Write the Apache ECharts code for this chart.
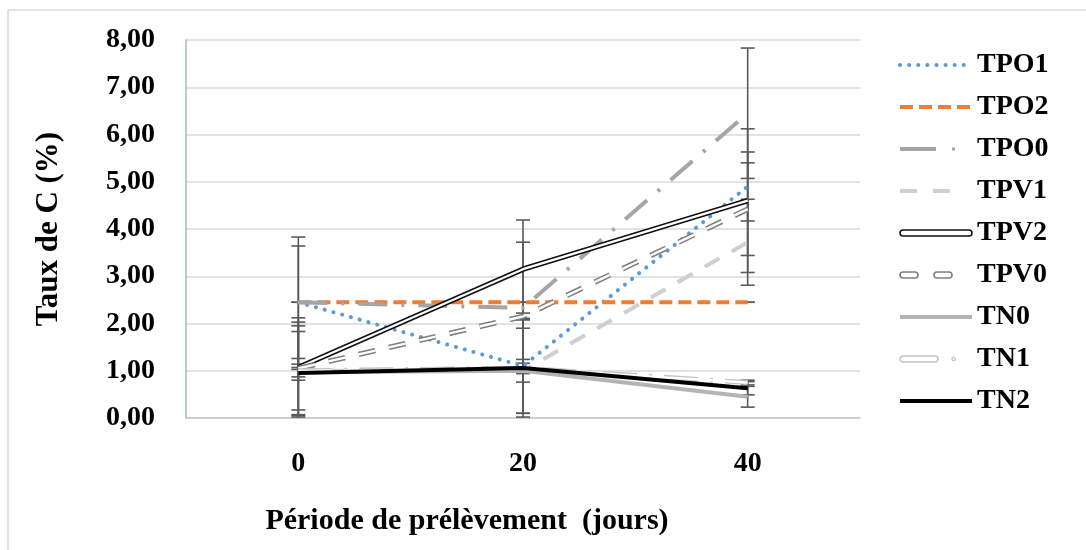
<!DOCTYPE html>
<html>
<head>
<meta charset="utf-8">
<script src="https://cdn.jsdelivr.net/npm/echarts@6/dist/echarts.min.js"></script>
<style>
  html, body { margin: 0; padding: 0; background: #fff; }
  #chart { width: 1086px; height: 550px; }
</style>
</head>
<body>
<div id="chart"></div>
<script>
// Sampling days (x categories) and y tick labels
const periods = ['0', '20', '40'];
const yTickLabels = ['0,00', '1,00', '2,00', '3,00', '4,00', '5,00', '6,00', '7,00', '8,00'];

// Carbon content (%) per treatment at each sampling day
const TPO1 = [2.45, 1.10, 4.90];
const TPO2 = [2.45, 2.45, 2.45];
const TPO0 = [2.45, 2.33, 6.45];
const TPV1 = [1.00, 1.00, 3.72];
const TPV2 = [1.07, 3.15, 4.60];
const TPV0 = [1.05, 2.15, 4.42];
const TN0  = [0.97, 1.00, 0.45];
const TN1  = [1.00, 1.05, 0.75];
const TN2  = [0.95, 1.06, 0.63];

// Error bar half-widths (± %) per treatment at each sampling day
const errTPO1 = [1.38, 1.00, 0.73];
const errTPO2 = [0.00, 0.00, 0.00];
const errTPO0 = [1.19, 1.39, 1.38];
const errTPV1 = [0.95, 0.90, 0.91];
const errTPV2 = [1.05, 1.04, 1.52];
const errTPV0 = [0.98, 0.07, 0.98];
const errTN0  = [0.17, 0.24, 0.22];
const errTN1  = [0.83, 1.03, 0.05];
const errTN2  = [0.08, 0.10, 0.14];

const SERIF = 'Liberation Serif';

const treatments = [
  { name: 'TPO1', data: TPO1, err: errTPO1, line: { color: '#5B9BD5', width: 4, type: [0.1, 9], cap: 'round' } },
  { name: 'TPO2', data: TPO2, err: errTPO2, line: { color: '#ED7D31', width: 4, type: [13, 6], cap: 'butt' } },
  { name: 'TPO0', data: TPO0, err: errTPO0, line: { color: '#A5A5A5', width: 4, type: [29, 14, 3, 14], cap: 'butt' } },
  { name: 'TPV1', data: TPV1, err: errTPV1, line: { color: '#CFCFCF', width: 4, type: [17, 14], cap: 'butt' } },
  { name: 'TPV2', data: TPV2, err: errTPV2, line: { color: '#111111', width: 5.5, type: 'solid', cap: 'butt' },
    inner: { color: '#ffffff', width: 2.2, type: 'solid', cap: 'butt' } },
  { name: 'TPV0', data: TPV0, err: errTPV0, line: { color: '#7F7F7F', width: 5.5, type: [17, 14], cap: 'butt' },
    inner: { color: '#ffffff', width: 2.4, type: [17, 14], cap: 'butt' } },
  { name: 'TN0', data: TN0, err: errTN0, line: { color: '#B4B4B4', width: 4, type: 'solid', cap: 'butt' } },
  { name: 'TN1', data: TN1, err: errTN1, line: { color: '#C4C4C4', width: 5, type: [34, 12, 3, 12], cap: 'butt' },
    inner: { color: '#ffffff', width: 2.2, type: [34, 12, 3, 12], cap: 'butt' } },
  { name: 'TN2', data: TN2, err: errTN2, line: { color: '#000000', width: 4, type: 'solid', cap: 'butt' } }
];

// Error bar records: [category index, low, high]
const errorData = [];
treatments.forEach(t => {
  t.data.forEach((v, i) => {
    errorData.push([i, +(v - t.err[i]).toFixed(3), +(v + t.err[i]).toFixed(3)]);
  });
});

const series = [{
  name: 'error bars',
  type: 'custom',
  z: 1,
  silent: true,
  encode: { x: 0, y: [1, 2] },
  data: errorData,
  renderItem: function (params, api) {
    const idx = api.value(0);
    const lo = api.coord([idx, api.value(1)]);
    const hi = api.coord([idx, api.value(2)]);
    const hw = 7;
    const st = { stroke: '#595959', lineWidth: 1.6 };
    return {
      type: 'group',
      children: [
        { type: 'line', shape: { x1: lo[0], y1: lo[1], x2: hi[0], y2: hi[1] }, style: st },
        { type: 'line', shape: { x1: lo[0] - hw, y1: lo[1], x2: lo[0] + hw, y2: lo[1] }, style: st },
        { type: 'line', shape: { x1: hi[0] - hw, y1: hi[1], x2: hi[0] + hw, y2: hi[1] }, style: st }
      ]
    };
  }
}];

let z = 2;
treatments.forEach(t => {
  series.push({
    name: t.name,
    type: 'line',
    data: t.data,
    symbol: 'none',
    z: z++,
    silent: true,
    lineStyle: t.line
  });
  if (t.inner) {
    series.push({
      name: t.name + ' core',
      type: 'line',
      data: t.data,
      symbol: 'none',
      z: z++,
      silent: true,
      lineStyle: t.inner
    });
  }
});

// Legend icon shapes (72 x 8 box) for the dashed and outlined styles
const legendIcons = {
  TPO0: { path: 'M0,2 H36 V6 H0 Z M52,2.5 H55 V5.5 H52 Z M72,0 M72,8',
          style: { color: '#A5A5A5', borderWidth: 0, opacity: 1 } },
  TPV1: { path: 'M0,2 H17 V6 H0 Z M33,2 H50 V6 H33 Z M72,0 M72,8',
          style: { color: '#CFCFCF', borderWidth: 0, opacity: 1 } },
  TPV2: { path: 'M3,1 H69 A3,3 0 0 1 69,7 H3 A3,3 0 0 1 3,1 Z M0,0 M72,8',
          style: { color: '#fff', borderColor: '#111', borderWidth: 1.6, opacity: 1 } },
  TPV0: { path: 'M3,1 H15 A3,3 0 0 1 15,7 H3 A3,3 0 0 1 3,1 Z M37,1 H49 A3,3 0 0 1 49,7 H37 A3,3 0 0 1 37,1 Z M0,0 M72,8',
          style: { color: '#fff', borderColor: '#7F7F7F', borderWidth: 1.6, opacity: 1 } },
  TN1:  { path: 'M3,1 H35 A3,3 0 0 1 35,7 H3 A3,3 0 0 1 3,1 Z M52,4 A1.6,1.6 0 1 1 55.2,4 A1.6,1.6 0 1 1 52,4 Z M0,0 M72,8',
          style: { color: '#fff', borderColor: '#C4C4C4', borderWidth: 1.4, opacity: 1 } }
};

const legendData = treatments.map(t => {
  const ic = legendIcons[t.name];
  return ic ? { name: t.name, icon: 'path://' + ic.path, itemStyle: ic.style } : { name: t.name };
});

const chart = echarts.init(document.getElementById('chart'), null, { renderer: 'canvas' });
chart.setOption({
  animation: false,
  backgroundColor: '#ffffff',
  graphic: [{
    type: 'rect',
    shape: { x: 8, y: 10, width: 1200, height: 700 },
    style: { fill: 'none', stroke: '#D9D9D9', lineWidth: 1.5 },
    silent: true,
    z: -10
  }],
  grid: { left: 186, right: 226, top: 40, bottom: 132, containLabel: false, outerBoundsMode: 'none' },
  legend: {
    orient: 'vertical',
    left: 893,
    top: 45,
    itemWidth: 72,
    itemHeight: 8,
    itemGap: 12,
    selectedMode: false,
    textStyle: { fontFamily: SERIF, fontWeight: 'bold', fontSize: 28, color: '#000', lineHeight: 30 },
    lineStyle: { width: 'inherit' },
    itemStyle: { opacity: 0 },
    data: legendData
  },
  xAxis: {
    type: 'category',
    data: periods,
    boundaryGap: true,
    name: 'Période de prélèvement  (jours)',
    nameLocation: 'middle',
    nameGap: 88,
    nameTextStyle: { fontFamily: SERIF, fontWeight: 'bold', fontSize: 30, color: '#000', padding: [0, 112, 0, 0] },
    axisLine: { show: true, lineStyle: { color: '#C8C8C8', width: 1.5 } },
    axisTick: { show: false },
    axisLabel: { fontFamily: SERIF, fontWeight: 'bold', fontSize: 28, color: '#000', margin: 32 },
    splitLine: { show: false }
  },
  yAxis: {
    type: 'value',
    min: 0,
    max: 8,
    interval: 1,
    name: 'Taux de C (%)',
    nameLocation: 'middle',
    nameGap: 122,
    nameRotate: 90,
    nameTextStyle: { fontFamily: SERIF, fontWeight: 'bold', fontSize: 31, color: '#000' },
    axisLine: { show: true, lineStyle: { color: '#A3B8CC', width: 1.5 } },
    axisTick: { show: false },
    axisLabel: {
      fontFamily: SERIF, fontWeight: 'bold', fontSize: 28, color: '#000', margin: 31,
      formatter: function (v) { return yTickLabels[Math.round(v)]; }
    },
    splitLine: { show: true, lineStyle: { color: '#D9D9D9', width: 1.5 } }
  },
  series: series
});
</script>
</body>
</html>
